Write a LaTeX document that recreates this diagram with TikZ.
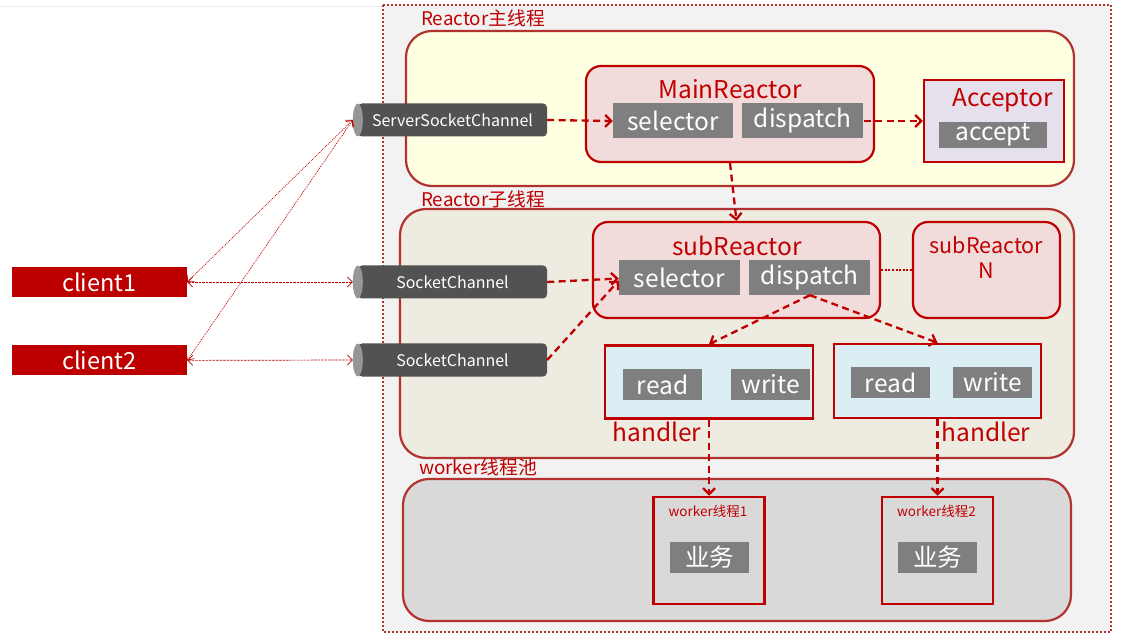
\documentclass[tikz,border=0pt]{standalone}
\usepackage{fontspec}
\setmainfont{Noto Sans CJK SC}
\usetikzlibrary{positioning,arrows.meta}
\definecolor{dred}{RGB}{192,0,0}
\definecolor{fred}{RGB}{178,50,48}
\definecolor{outbg}{RGB}{242,242,242}
\definecolor{mainbg}{RGB}{255,255,225}
\definecolor{subbg}{RGB}{238,235,224}
\definecolor{poolbg}{RGB}{217,217,217}
\definecolor{rpink}{RGB}{242,220,219}
\definecolor{lav}{RGB}{230,224,236}
\definecolor{hblue}{RGB}{219,238,244}
\definecolor{tgrey}{RGB}{127,127,127}
\definecolor{pgrey}{RGB}{82,82,82}
\definecolor{pend}{RGB}{150,150,150}
\definecolor{cred}{RGB}{188,0,0}

\begin{document}
\begin{tikzpicture}[x=1pt, y=-1pt,
	frame/.style = {draw=fred, line width=2.2pt, rounded corners=26pt},
	title/.style = {text=dred, font=\fontsize{18.8}{20}\selectfont, anchor=west, inner sep=0pt},
	rtitle/.style = {text=dred, font=\fontsize{24.5}{26}\selectfont, inner sep=0pt},
	reactor/.style = {draw=dred, fill=rpink, line width=2.2pt, rounded corners=15pt, minimum height=96pt},
	box/.style = {draw=dred, line width=2.5pt},
	tag/.style = {fill=tgrey, text=white, font=\fontsize{24.5}{26}\selectfont, inner sep=0pt},
	pipe/.style = {fill=pgrey, text=white, rounded corners=4pt, minimum width=189pt, minimum height=33pt, font=\fontsize{16}{18}\selectfont},
	client/.style = {fill=cred, text=white, minimum width=175pt, minimum height=30pt, font=\fontsize{23.5}{25}\selectfont},
	flow/.style = {draw=dred, line width=2.3pt, dash pattern=on 7pt off 4.5pt, -{Straight Barb[length=6pt,width=12pt]}},
	link/.style = {draw=dred, line width=0.7pt, dash pattern=on 2.5pt off 1pt, {Straight Barb[length=5pt,width=10pt]}-{Straight Barb[length=5pt,width=10pt]}}]
	\useasboundingbox (0,0) rectangle (1130,636);
	\draw[black!7] (0,6) -- (383,6);
	% outer area and the three thread groups
	\draw[fill=outbg, draw=fred, line width=2.2pt, dash pattern=on 2pt off 2pt] (383,5) rectangle (1111,632);
	\draw[frame, fill=mainbg] (406,31) rectangle (1074,186);
	\draw[frame, fill=subbg] (400,209) rectangle (1074,458);
	\draw[frame, fill=poolbg] (403,479) rectangle (1071,621);
	\node[title] (t1) at (421,18) {Reactor主线程};
	\node[title] (t2) at (421,199) {Reactor子线程};
	\node[title] (t3) at (419,467) {worker线程池};
	% main reactor
	\node[reactor, minimum width=288pt] (mr) at (730,114) {};
	\node[rtitle] (mrt) at (730,89) {MainReactor};
	\node[tag, minimum width=120pt, minimum height=35pt] (msel) at (673,121) {selector};
	\node[tag, minimum width=121pt, minimum height=35pt] (mdis) [right=9pt of msel] {dispatch};
	\node[box, fill=lav, minimum width=140pt, minimum height=82pt] (acc) at (994,121) {};
	\node[rtitle] (acct) at (1002.5,100) {Acceptor};
	\node[tag, minimum width=108pt, minimum height=26pt] (acp) at (993,135) {accept};
	% channels
	\node[pipe] (ssc) at (452.5,120) {ServerSocketChannel};
	\node[pipe] (sc1) at (452.5,282) {SocketChannel};
	\node[pipe] (sc2) at (452.5,360) {SocketChannel};
	\fill[pend] (ssc.west) ellipse [x radius=5pt, y radius=16.5pt];
	\fill[pend] (sc1.west) ellipse [x radius=5pt, y radius=16.5pt];
	\fill[pend] (sc2.west) ellipse [x radius=5pt, y radius=16.5pt];
	% clients
	\node[client] (c1) at (99.5,282) {client1};
	\node[client] (c2) [below=48pt of c1] {client2};
	% sub reactor
	\node[reactor, minimum width=287pt] (sr) at (736.5,270) {};
	\node[rtitle] (srt) at (737,246) {subReactor};
	\node[tag, minimum width=121pt, minimum height=35pt] (ssel) at (679.5,277.5) {selector};
	\node[tag, minimum width=121pt, minimum height=35pt] (sdis) [right=9pt of ssel] {dispatch};
	\node[reactor, minimum width=147pt] (srn) at (986.5,270) {};
	\node[text=dred, font=\fontsize{21.5}{25}\selectfont, align=center, inner sep=0pt] (srnt) at (986.5,257) {subReactor\\N};
	% handlers
	\node[box, fill=hblue, minimum width=208pt, minimum height=73pt] (h1) at (709,382) {};
	\node[tag, minimum width=79pt, minimum height=31pt] (r1) at (662.5,384.5) {read};
	\node[tag, minimum width=79pt, minimum height=31pt] (w1) [right=29pt of r1] {write};
	\node[box, fill=hblue, minimum width=207pt, minimum height=74pt] (h2) at (937.5,381) {};
	\node[tag, minimum width=79pt, minimum height=31pt] (r2) at (890.5,382.5) {read};
	\node[tag, minimum width=79pt, minimum height=31pt] (w2) [right=23pt of r2] {write};
	\node[rtitle] (h1t) at (657,432) {handler};
	\node[rtitle] (h2t) at (986,432) {handler};
	% workers
	\node[box, fill=poolbg, minimum width=111pt, minimum height=107pt] (wk1) at (709,550.5) {};
	\node[text=dred, font=\fontsize{13.5}{15}\selectfont, inner sep=0pt] (wk1t) at (708,511) {worker线程1};
	\node[tag, minimum width=79pt, minimum height=31pt] (b1) at (709.5,557.5) {业务};
	\node[box, fill=poolbg, minimum width=111pt, minimum height=107pt] (wk2) at (937.5,550.5) {};
	\node[text=dred, font=\fontsize{13.5}{15}\selectfont, inner sep=0pt] (wk2t) at (936.5,511) {worker线程2};
	\node[tag, minimum width=79pt, minimum height=31pt] (b2) at (937.5,557.5) {业务};
	% connectors
	\draw[flow] (ssc.east) -- (msel.west);
	\draw[flow] (mdis.east) -- (acc.west);
	\draw[flow] (mr.south) -- (sr.north);
	\draw[flow] (sc1.east) -- ([yshift=-1pt]ssel.west);
	\draw[flow] (sc2.east) -- ([yshift=-3pt]ssel.west);
	\draw[flow] (sdis.south) -- (h1.north);
	\draw[flow] (sdis.south) -- (h2.north);
	\draw[flow] (h1.south) -- (wk1.north);
	\draw[flow] (h2.south) -- (wk2.north);
	\draw[draw=dred, line width=2.6pt, dash pattern=on 2pt off 1.6pt] (sr.east) -- (srn.west);
	\draw[link] (c1.east) -- ([xshift=-5pt]sc1.west);
	\draw[link] (c2.east) -- ([xshift=-5pt]sc2.west);
	\draw[link, dash pattern=on 1pt off 1pt] (c1.east) -- ([xshift=-5pt]ssc.west);
	\draw[link, dash pattern=on 1pt off 1pt] (c2.east) -- ([xshift=-5pt]ssc.west);
\end{tikzpicture}
\end{document}
